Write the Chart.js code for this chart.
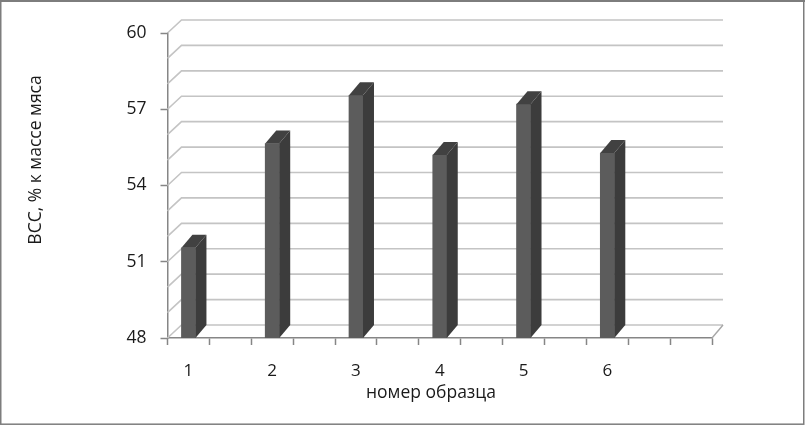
<!DOCTYPE html>
<html><head><meta charset="utf-8">
<style>html,body{margin:0;padding:0;background:#fff}#w{position:absolute;left:0;top:0;width:805px;height:425px}</style>
<script src="https://cdn.jsdelivr.net/npm/chart.js@4"></script>
</head><body><div id="w"><canvas id="c" width="805" height="425"></canvas></div>
<script>
const categories = ['1','','2','','3','','4','','5','','6','',''];
const values = [51.55,null,55.65,null,57.55,null,55.2,null,57.2,null,55.28,null,null];
const yTitle = 'ВСС, % к массе мяса';
const xTitle = 'номер образца';
const FONT = '"Open Sans", "Noto Sans", sans-serif';
const DX = 14, DY = 13, BDX = 11, BDY = 13;

const decor = {
  id: 'decor',
  beforeDatasetsDraw(ch) {
    const c = ch.ctx, y = ch.scales.y, a = ch.chartArea;
    c.save();
    c.strokeStyle = '#c4c4c4'; c.lineWidth = 1.6;
    for (let v = y.min; v <= y.max; v++) {
      const p = y.getPixelForValue(v);
      c.beginPath();
      c.moveTo(a.left, p);
      c.lineTo(a.left + DX, p - DY);
      c.lineTo(a.right + DX - 3, p - DY);
      c.stroke();
    }
    c.strokeStyle = '#a6a6a6'; c.lineWidth = 1.4;
    c.beginPath(); c.moveTo(a.right, a.bottom); c.lineTo(a.right + 11, a.bottom - DY); c.stroke();
    c.restore();
  },
  afterDatasetsDraw(ch) {
    const c = ch.ctx, m = ch.getDatasetMeta(0), bt = ch.chartArea.bottom;
    c.save();
    m.data.forEach((b, i) => {
      if (values[i] === null) return;
      const r = b.x + b.width / 2, l = b.x - b.width / 2, t = b.y;
      c.fillStyle = '#3c3c3c';
      c.beginPath();
      c.moveTo(r, t); c.lineTo(r + BDX, t - BDY); c.lineTo(r + BDX, bt - BDY); c.lineTo(r, bt);
      c.closePath(); c.fill();
      c.fillStyle = '#414141';
      c.beginPath();
      c.moveTo(l, t); c.lineTo(l + BDX, t - BDY); c.lineTo(r + BDX, t - BDY); c.lineTo(r, t);
      c.closePath(); c.fill();
    });
    c.restore();
  },
  afterDraw(ch) {
    const c = ch.ctx;
    c.save();
    c.fillStyle = '#1a1a1a';
    c.textAlign = 'center'; c.textBaseline = 'middle';
    c.font = '17.5px ' + FONT;
    c.fillText(xTitle, 431, 393);
    c.translate(36, 160); c.rotate(-Math.PI / 2);
    c.fillText(yTitle, 0, 0);
    c.restore();
    c.save();
    c.strokeStyle = '#7d7d7d';
    c.lineWidth = 2;
    c.beginPath(); c.moveTo(0, 1); c.lineTo(805, 1); c.stroke();
    c.lineWidth = 1.5;
    c.strokeRect(0.75, 1, 803, 423.2);
    c.restore();
  }
};

new Chart(document.getElementById('c'), {
  type: 'bar',
  data: { labels: categories, datasets: [{ data: values, backgroundColor: '#5c5c5c', barThickness: 14, borderWidth: 0 }] },
  plugins: [decor],
  options: {
    responsive: false, animation: false,
    layout: { padding: { left: 0, right: 93, top: 33, bottom: 0 } },
    plugins: { legend: { display: false }, tooltip: { enabled: false }, title: { display: false } },
    scales: {
      x: {
        afterFit: s => { s.height = 87; },
        grid: { drawOnChartArea: false, tickLength: 7, tickColor: '#868686', tickWidth: 1.5 },
        border: { color: '#868686', width: 1.5 },
        ticks: { autoSkip: false, maxRotation: 0, padding: 16, color: '#1a1a1a', font: { family: FONT, size: 17 } }
      },
      y: {
        min: 48, max: 60,
        afterFit: s => { s.width = 167.5; },
        grid: { drawOnChartArea: false, tickLength: 7, tickWidth: 1.5,
                tickColor: ctx => (ctx.tick && (ctx.tick.value - 48) % 3 === 0) ? '#868686' : 'rgba(0,0,0,0)' },
        border: { color: '#868686', width: 1.5 },
        ticks: { stepSize: 1, autoSkip: false, padding: 14, color: '#1a1a1a', font: { family: FONT, size: 17.5 },
                 callback: v => ((v - 48) % 3 === 0 ? String(v) : '') }
      }
    }
  }
});
</script></body></html>
